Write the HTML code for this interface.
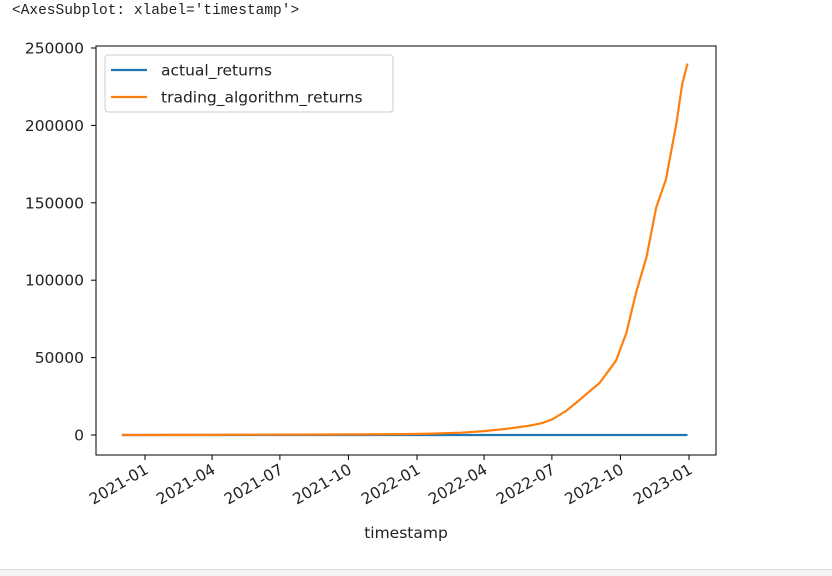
<!DOCTYPE html>
<html><head><meta charset="utf-8"><style>
body{margin:0;background:#fff;width:832px;height:575px;overflow:hidden;position:relative}
#hdr{position:absolute;left:12px;top:3px;font:14.5px "Liberation Mono","DejaVu Sans Mono",monospace;color:#222}
#bar{position:absolute;left:0;top:569px;width:832px;height:6px;background:#f3f3f3;border-top:1px solid #ddd}
</style></head><body>
<div id="hdr">&lt;AxesSubplot: xlabel='timestamp'&gt;</div>
<svg id="chart" width="832" height="575" style="position:absolute;left:0;top:0" font-family="DejaVu Sans, Liberation Sans, sans-serif"></svg>
<div id="bar"></div>
<script>
const dates=["2020-12-01","2021-03-01","2021-06-01","2021-09-01","2021-12-01","2022-01-15","2022-03-01","2022-04-01","2022-05-01","2022-06-01","2022-06-18","2022-07-01","2022-07-20","2022-08-07","2022-08-20","2022-09-03","2022-09-25","2022-10-09","2022-10-22","2022-11-05","2022-11-18","2022-12-01","2022-12-15","2022-12-23","2022-12-30"];
const actualValues=dates.map(()=>1);
const algoValues=[1,100,200,300,500,800,1500,2500,4000,6000,7700,10000,15500,22600,28000,33600,48000,66000,92000,115000,147000,165000,201000,227000,240000];
const yTicks=[0,50000,100000,150000,200000,250000];
const xTicks=["2021-01","2021-04","2021-07","2021-10","2022-01","2022-04","2022-07","2022-10","2023-01"];
const svg=document.getElementById('chart');const NS="http://www.w3.org/2000/svg";
const L=96,R=716,T=46,B=455;
const t0=Date.parse("2021-01-01"),t1=Date.parse("2023-01-01");
const xs=d=>145+(Date.parse(d)-t0)/(t1-t0)*(689-145);
const ys=v=>435-v*(435-48)/250000;
function mk(tag,attrs,parent){const e=document.createElementNS(NS,tag);for(const k in attrs)e.setAttribute(k,attrs[k]);(parent||svg).appendChild(e);return e;}
yTicks.forEach(v=>{const y=ys(v);
 const tk=mk('line',{x1:L-5,x2:L,y1:y,y2:y,stroke:'#000','stroke-width':1});
 
 
 const t=mk('text',{x:L-12,y:y+5.5,'text-anchor':'end','font-size':15.5,fill:'#222'});t.textContent=v;
 
 });
xTicks.forEach(s=>{const x=xs(s+"-01");
 const tk=mk('line',{x1:x,x2:x,y1:B,y2:B+5,stroke:'#000','stroke-width':1});
 
 
 const t=mk('text',{x:x+1,y:B+19,'text-anchor':'end','font-size':15.5,fill:'#222',transform:`rotate(-30 ${x} ${B+12})`});t.textContent=s;
 
 });
function line(vals,color,name){const p=mk('polyline',{points:dates.map((d,i)=>xs(d)+','+ys(vals[i])).join(' '),fill:'none',stroke:color,'stroke-width':2.2});
 
 }
line(actualValues,'#1f77b4','actual-returns-line');
line(algoValues,'#ff7f0e','trading-algorithm-returns-line');
const fr=mk('rect',{x:L,y:T,width:R-L,height:B-T,fill:'none',stroke:'#000','stroke-width':1});


const xl=mk('text',{x:406,y:538,'text-anchor':'middle','font-size':15.5,fill:'#222'});xl.textContent='timestamp';


const lg=mk('g',{});


mk('rect',{x:105,y:55,width:288,height:57,rx:3,fill:'#fff',stroke:'#ccc'},lg);
[['actual_returns','#1f77b4'],['trading_algorithm_returns','#ff7f0e']].forEach((e,i)=>{const y=70+i*27;
 const g=mk('g',{},lg);
 
 
 mk('line',{x1:111,x2:147,y1:y,y2:y,stroke:e[1],'stroke-width':2.2},g);
 const t=mk('text',{x:161,y:y+5.5,'font-size':15.5,fill:'#222'},g);t.textContent=e[0];});
</script>
</body></html>
